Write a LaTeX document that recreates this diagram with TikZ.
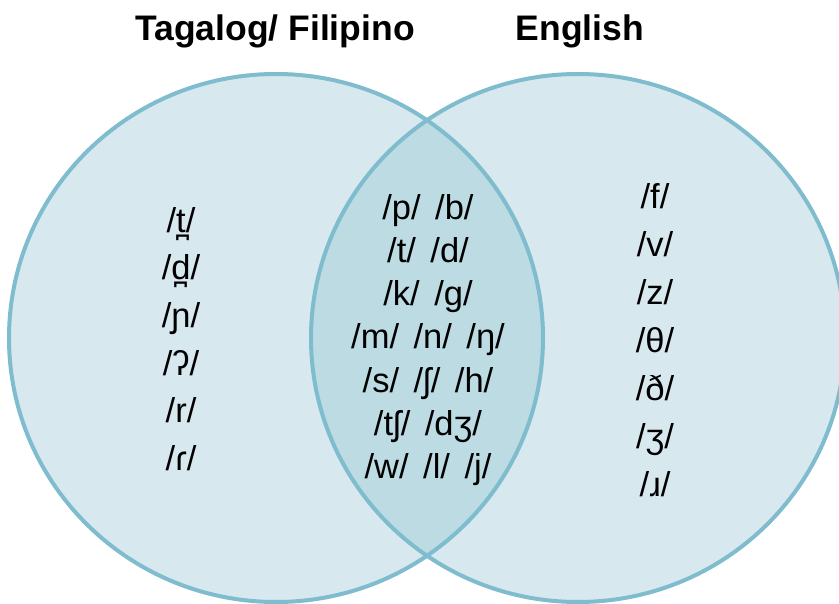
\documentclass[tikz,border=0pt]{standalone}
\usepackage{fontspec}
\setmainfont{Liberation Sans}
\definecolor{vline}{RGB}{126,188,206}
\definecolor{vfill}{RGB}{216,232,239}
\definecolor{vmid}{RGB}{188,219,227}
\newcommand{\gp}{\hspace{0.42em}}
\begin{document}
\begin{tikzpicture}[x=1pt,y=1pt,
  title/.style={font=\fontsize{35.5}{42}\selectfont\bfseries, inner sep=0pt},
  col/.style={align=center, inner sep=0pt}]
\useasboundingbox (0,0) rectangle (839,-604);
\clip (0,0) rectangle (839,-604);
\coordinate (L) at (276,-338);
\coordinate (R) at (578,-338);
\fill[vfill] (L) ellipse [x radius=267, y radius=264];
\fill[vfill] (R) ellipse [x radius=267, y radius=264];
\begin{scope}
  \clip (L) ellipse [x radius=267, y radius=264];
  \fill[vmid] (R) ellipse [x radius=267, y radius=264];
\end{scope}
\draw[vline, line width=4] (L) ellipse [x radius=267, y radius=264];
\draw[vline, line width=4] (R) ellipse [x radius=267, y radius=264];
\node[title] (tl) at (275,-31) {Tagalog/ Filipino};
\node[title] (te) at (580,-31) {English};
\node[col, font=\fontsize{34.5}{47.6}\selectfont] (cl) at (181,-339)
  {/t̪/\\/d̪/\\/ɲ/\\/ʔ/\\/r/\\/ɾ/};
\node[col, font=\fontsize{34.5}{43.3}\selectfont] (cm) at (428,-340)
  {/p/\gp/b/\\/t/\gp/d/\\/k/\gp/g/\\/m/\gp/n/\gp/ŋ/\\/s/\gp/ʃ/\gp/h/\\/tʃ/\gp/dʒ/\\/w/\gp/l/\gp/j/};
\node[col, font=\fontsize{34.5}{48}\selectfont] (cr) at (655,-340)
  {/f/\\/v/\\/z/\\/θ/\\/ð/\\/ʒ/\\/ɹ/};
\end{tikzpicture}
\end{document}
